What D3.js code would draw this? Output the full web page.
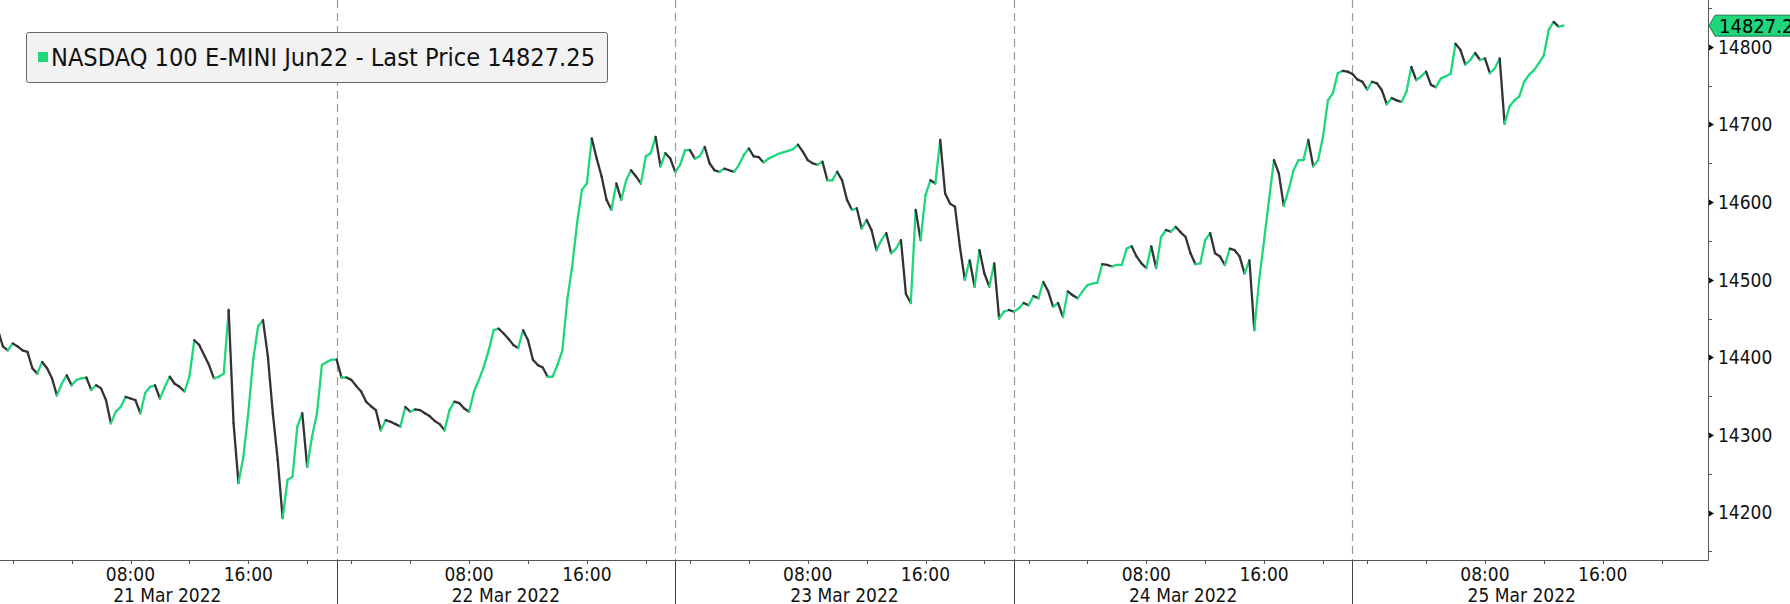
<!DOCTYPE html>
<html lang="en">
<head>
<meta charset="utf-8">
<title>NASDAQ 100 E-MINI Jun22</title>
<script src="https://d3js.org/d3.v7.min.js"></script>
<style>
  html, body { margin: 0; padding: 0; background: #fff; }
  svg { display: block; font-family: "DejaVu Sans Condensed", "DejaVu Sans", sans-serif; }
</style>
</head>
<body>
<svg id="chart" width="1790" height="604"></svg>
<script>
// each session opens 23:00 the evening before and trades 23 hours
var dayLabels = ["21 Mar 2022", "22 Mar 2022", "23 Mar 2022", "24 Mar 2022", "25 Mar 2022"];
var hourLabels = [{ h: 8, text: "08:00" }, { h: 16, text: "16:00" }];
var hourTicks = [0, 4, 8, 12, 16, 20];
var priceTicks = [14200, 14300, 14400, 14500, 14600, 14700, 14800];
var minorTicks = [14150, 14250, 14350, 14450, 14550, 14650, 14750, 14850];
var lastPrice = 14827.25;
var legendText = "NASDAQ 100 E-MINI Jun22 - Last Price 14827.25";

// 20 minute samples, one array per session
var mar21 = [14435, 14414, 14409, 14418, 14414, 14409, 14407, 14386, 14379, 14394,
             14386, 14373, 14351, 14366, 14377, 14364, 14371, 14373, 14374, 14358,
             14364, 14360, 14345, 14315, 14330, 14336, 14349, 14347, 14345, 14328,
             14354, 14362, 14364, 14347, 14362, 14375, 14366, 14362, 14356, 14375,
             14422, 14416, 14403, 14390, 14373, 14375, 14379, 14461, 14315, 14238,
             14272, 14328, 14397, 14440, 14448, 14401, 14328, 14268, 14193, 14242,
             14246, 14311, 14328, 14259, 14298, 14328, 14390, 14394, 14397];
var mar22 = [14397, 14374, 14374, 14371, 14363, 14356, 14343, 14337, 14332, 14306,
             14319, 14317, 14314, 14311, 14336, 14330, 14333, 14332, 14328, 14324,
             14318, 14314, 14306, 14332, 14343, 14341, 14334, 14330, 14356, 14371,
             14388, 14409, 14435, 14437, 14431, 14424, 14416, 14412, 14435, 14422,
             14397, 14390, 14387, 14375, 14375, 14390, 14409, 14474, 14517, 14573,
             14616, 14624, 14682, 14656, 14633, 14603, 14590, 14624, 14603, 14628,
             14641, 14633, 14624, 14659, 14663, 14684, 14646, 14663, 14656];
var mar23 = [14639, 14648, 14667, 14667, 14656, 14659, 14671, 14650, 14641, 14639,
             14643, 14641, 14639, 14648, 14661, 14669, 14659, 14658, 14651, 14656,
             14659, 14662, 14664, 14666, 14668, 14674, 14665, 14654, 14650, 14648,
             14652, 14628, 14628, 14639, 14628, 14603, 14590, 14592, 14566, 14577,
             14564, 14538, 14551, 14560, 14534, 14540, 14551, 14482, 14470, 14590,
             14551, 14609, 14628, 14624, 14680, 14611, 14598, 14594, 14543, 14500,
             14525, 14491, 14538, 14508, 14491, 14521, 14450, 14459, 14461];
var mar24 = [14459, 14463, 14470, 14467, 14479, 14476, 14497, 14485, 14465, 14470,
             14452, 14485, 14480, 14476, 14485, 14493, 14495, 14496, 14520, 14519,
             14517, 14519, 14519, 14540, 14543, 14530, 14521, 14515, 14543, 14515,
             14555, 14564, 14562, 14568, 14561, 14555, 14534, 14520, 14521, 14551,
             14560, 14534, 14530, 14519, 14540, 14538, 14530, 14508, 14525, 14435,
             14500, 14551, 14603, 14654, 14637, 14595, 14616, 14641, 14654, 14654,
             14680, 14646, 14654, 14684, 14731, 14740, 14766, 14769, 14768];
var mar25 = [14765, 14758, 14755, 14745, 14755, 14753, 14744, 14726, 14734, 14731,
             14729, 14742, 14774, 14757, 14762, 14768, 14751, 14748, 14759, 14762,
             14765, 14804, 14796, 14777, 14783, 14792, 14783, 14785, 14766, 14772,
             14785, 14701, 14723, 14731, 14736, 14755, 14764, 14770, 14779, 14789,
             14822, 14832, 14826, 14827.25];
var sessions = [mar21, mar22, mar23, mar24, mar25];

var SESSION = 23;      // trading hours per session
var STEP = 1 / 3;      // 20 minutes

var W = 1790, H = 604;
var plotRight = 1708, plotBottom = 560;
var green = "#1fd67c", grey = "#333333";

var svg = d3.select("#chart");

var x = d3.scaleLinear().domain([0, 116.15]).range([-2, plotRight]);
var y = d3.scaleLinear().domain([14200, 14800]).range([512.6, 46.8]);

// clock hour of a session -> session hours from first open
function sessionHour(d, clock) { return d * SESSION + clock + 1; }

var points = [];
sessions.forEach(function(vals, d) {
    vals.forEach(function(v, i) { points.push({ t: d * SESSION + i * STEP, v: v }); });
});

svg.append("clipPath").attr("id", "plot")
    .append("rect").attr("x", 0).attr("y", 0).attr("width", plotRight).attr("height", plotBottom);

// session separators
var seps = d3.range(1, sessions.length).map(function(d) { return d * SESSION; });
svg.append("g").selectAll("line").data(seps).join("line")
    .attr("x1", function(d) { return Math.round(x(d)) + 0.5; })
    .attr("x2", function(d) { return Math.round(x(d)) + 0.5; })
    .attr("y1", 0).attr("y2", plotBottom)
    .attr("stroke", "#9a9a9a").attr("stroke-width", 1.2).attr("stroke-dasharray", "8,5");
svg.append("g").selectAll("line").data(seps).join("line")
    .attr("x1", function(d) { return Math.round(x(d)) + 0.5; })
    .attr("x2", function(d) { return Math.round(x(d)) + 0.5; })
    .attr("y1", plotBottom).attr("y2", H)
    .attr("stroke", "#444");

// price line, coloured by direction
var segs = d3.pairs(points);
svg.append("g").attr("clip-path", "url(#plot)")
    .selectAll("line").data(segs).join("line")
    .attr("x1", function(d) { return x(d[0].t); })
    .attr("y1", function(d) { return y(d[0].v); })
    .attr("x2", function(d) { return x(d[1].t); })
    .attr("y2", function(d) { return y(d[1].v); })
    .attr("stroke", function(d) { return d[1].v >= d[0].v ? green : grey; })
    .attr("stroke-width", 2.3)
    .attr("stroke-linecap", "round");

// axes
svg.append("line").attr("x1", 0).attr("x2", plotRight + 0.5)
    .attr("y1", plotBottom + 0.5).attr("y2", plotBottom + 0.5).attr("stroke", "#555");
svg.append("line").attr("x1", plotRight + 0.5).attr("x2", plotRight + 0.5)
    .attr("y1", 0).attr("y2", plotBottom + 0.5).attr("stroke", "#555");

var xt = [];
dayLabels.forEach(function(lab, d) {
    hourTicks.forEach(function(h) { xt.push(sessionHour(d, h)); });
});
xt = xt.filter(function(t) { return x(t) >= 0 && x(t) < plotRight; });
svg.append("g").selectAll("line").data(xt).join("line")
    .attr("x1", function(d) { return Math.round(x(d)) + 0.5; })
    .attr("x2", function(d) { return Math.round(x(d)) + 0.5; })
    .attr("y1", plotBottom).attr("y2", plotBottom + 4)
    .attr("stroke", "#555");

var hl = [];
dayLabels.forEach(function(lab, d) {
    hourLabels.forEach(function(h) { hl.push({ t: sessionHour(d, h.h), text: h.text }); });
});
svg.append("g").selectAll("text").data(hl).join("text")
    .attr("x", function(d) { return x(d.t); })
    .attr("y", 580.5)
    .attr("text-anchor", "middle")
    .attr("font-size", 19)
    .attr("fill", "#111")
    .text(function(d) { return d.text; });

svg.append("g").selectAll("text").data(dayLabels).join("text")
    .attr("x", function(d, i) { return x(i * SESSION + SESSION / 2); })
    .attr("y", 601.5)
    .attr("text-anchor", "middle")
    .attr("font-size", 19)
    .attr("fill", "#111")
    .text(function(d) { return d; });

// y axis
svg.append("g").selectAll("path").data(priceTicks).join("path")
    .attr("d", function(d) {
        var yy = Math.round(y(d)) + 0.5;
        return "M" + (plotRight + 1) + "," + (yy - 3) + "L" + (plotRight + 6) + "," + yy + "L" + (plotRight + 1) + "," + (yy + 3) + "Z";
    })
    .attr("fill", "#111");
svg.append("g").selectAll("line").data(minorTicks).join("line")
    .attr("x1", plotRight).attr("x2", plotRight + 4)
    .attr("y1", function(d) { return Math.round(y(d)) + 0.5; })
    .attr("y2", function(d) { return Math.round(y(d)) + 0.5; })
    .attr("stroke", "#555");
svg.append("g").selectAll("text").data(priceTicks).join("text")
    .attr("x", plotRight + 10)
    .attr("y", function(d) { return y(d); })
    .attr("dy", "0.36em")
    .attr("font-size", 19)
    .attr("fill", "#111")
    .text(function(d) { return d; });

// last price tag
var ly = y(lastPrice);
svg.append("path")
    .attr("d", "M" + (plotRight + 1) + "," + ly + "L" + (plotRight + 7) + "," + (ly - 10.5) +
               "L" + (W + 2) + "," + (ly - 10.5) + "L" + (W + 2) + "," + (ly + 10.5) +
               "L" + (plotRight + 7) + "," + (ly + 10.5) + "Z")
    .attr("fill", green).attr("stroke", "#0b5a32").attr("stroke-width", 0.8);
svg.append("text")
    .attr("x", plotRight + 11).attr("y", ly).attr("dy", "0.36em")
    .attr("font-size", 20).attr("fill", "#000")
    .text(d3.format(".2f")(lastPrice));

// legend
var lg = svg.append("g");
lg.append("rect").attr("x", 26.5).attr("y", 32.5).attr("width", 581).attr("height", 50)
    .attr("rx", 2).attr("fill", "#f2f2f2").attr("stroke", "#666");
lg.append("rect").attr("x", 38).attr("y", 52).attr("width", 10).attr("height", 10).attr("fill", green);
lg.append("text").attr("x", 51).attr("y", 57.5).attr("dy", "0.36em")
    .attr("font-size", 24).attr("fill", "#111")
    .attr("textLength", 544).attr("lengthAdjust", "spacingAndGlyphs")
    .text(legendText);
</script>
</body>
</html>
